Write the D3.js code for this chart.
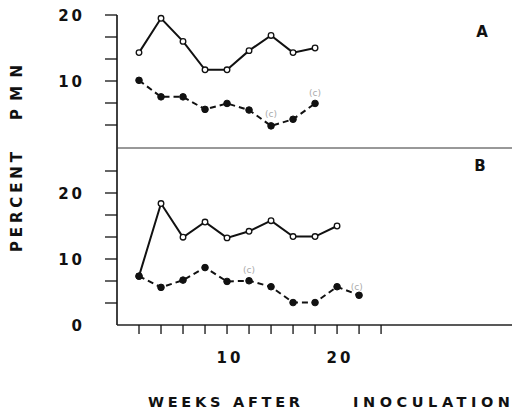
<!DOCTYPE html>
<html><head><meta charset="utf-8">
<script src="https://cdn.jsdelivr.net/npm/d3@7"></script>
<style>body{margin:0;background:#fff}svg{display:block}text{font-family:"DejaVu Sans",Verdana,sans-serif;font-weight:bold;fill:#111}</style>
</head><body>
<script>
const weeksA = [2,4,6,8,10,12,14,16,18];
const solidA = [14.3,19.5,16.0,11.7,11.7,14.6,16.9,14.3,15.0];
const dashedA = [10.1,7.6,7.6,5.7,6.6,5.6,3.2,4.2,6.6];
const weeksBsolid = [2,4,6,8,10,12,14,16,18,20];
const solidB = [7.4,18.4,13.3,15.6,13.2,14.2,15.8,13.4,13.4,15.0];
const weeksBdashed = [2,4,6,8,10,12,14,16,18,20,22];
const dashedB = [7.4,5.7,6.8,8.7,6.6,6.7,5.8,3.4,3.4,5.8,4.5];
const xTicks = [2,4,6,8,10,12,14,16,18,20,22,24];
const xTickLabels = [10,20];
const yTicksA = [20,50/3,40/3,10,20/3,10/3];
const yTicksB = [70/3,20,50/3,40/3,10,20/3,10/3];
const yLabelsA = [20,10];
const yLabelsB = [20,10,0];
const notesA = [{w:14,v:5.0,t:"(c)"},{w:18,v:8.2,t:"(c)"}];
const notesB = [{w:12,v:8.3,t:"(c)"},{w:21.8,v:5.8,t:"(c)"}];

const W=512,H=415;
const svg=d3.select("body").append("svg").attr("width",W).attr("height",H);
const x=d3.scaleLinear().domain([0,35.9]).range([117,512]);
const yA=d3.scaleLinear().domain([0,20]).range([147,15]);
const yB=d3.scaleLinear().domain([0,20]).range([325,193]);

// axes lines
svg.append("line").attr("x1",117).attr("x2",117).attr("y1",yA(20)).attr("y2",yB(0)).attr("stroke","#111").attr("stroke-width",1.6);
svg.append("line").attr("x1",117).attr("x2",512).attr("y1",yB(0)).attr("y2",yB(0)).attr("stroke","#222").attr("stroke-width",1.3);
svg.append("line").attr("x1",117).attr("x2",512).attr("y1",148).attr("y2",148).attr("stroke","#333").attr("stroke-width",1);

// y ticks
[[yA,yTicksA],[yB,yTicksB]].forEach(([s,t])=>{
  svg.selectAll(null).data(t).enter().append("line")
    .attr("x1",105).attr("x2",117).attr("y1",d=>s(d)).attr("y2",d=>s(d))
    .attr("stroke","#111").attr("stroke-width",1.3);
});
// x ticks
svg.selectAll(null).data(xTicks).enter().append("line")
  .attr("x1",d=>x(d)).attr("x2",d=>x(d)).attr("y1",325).attr("y2",334)
  .attr("stroke","#111").attr("stroke-width",1.3);

// tick labels
const tl=(sel)=>sel.style("font-size","15px").style("letter-spacing","3px");
[[yA,yLabelsA],[yB,yLabelsB]].forEach(([s,t])=>{
  svg.selectAll(null).data(t).enter().append("text")
    .attr("x",85).attr("y",d=>s(d)+5.5).attr("text-anchor","end").text(d=>d).call(tl);
});
svg.selectAll(null).data(xTickLabels).enter().append("text")
  .attr("x",d=>x(d)+3).attr("y",363).attr("text-anchor","middle").text(d=>d).call(tl);

// axis titles
svg.append("text").attr("transform","translate(22,252) rotate(-90)").attr("textLength",100).attr("lengthAdjust","spacing").style("font-size","15px").text("PERCENT");
svg.append("text").attr("transform","translate(22,120) rotate(-90)").attr("textLength",55).attr("lengthAdjust","spacing").style("font-size","15px").text("PMN");
svg.append("text").attr("x",148).attr("y",407).attr("textLength",152).attr("lengthAdjust","spacing").style("font-size","14.5px").text("WEEKS AFTER");
svg.append("text").attr("x",353).attr("y",407).attr("textLength",157).attr("lengthAdjust","spacing").style("font-size","14.5px").text("INOCULATION");
svg.append("text").attr("x",482).attr("y",37).attr("text-anchor","middle").style("font-size","15px").text("A");
svg.append("text").attr("x",480).attr("y",171).attr("text-anchor","middle").style("font-size","15px").text("B");

function series(ws,vs,s,dashed){
  const pts=ws.map((w,i)=>[x(w),s(vs[i])]);
  svg.append("path").attr("d",d3.line()(pts)).attr("fill","none").attr("stroke","#111")
    .attr("stroke-width",2).attr("stroke-dasharray",dashed?"6,4":null);
  svg.selectAll(null).data(pts).enter().append("circle")
    .attr("cx",d=>d[0]).attr("cy",d=>d[1]).attr("r",dashed?3.3:2.8)
    .attr("fill",dashed?"#111":"#fff").attr("stroke","#111").attr("stroke-width",dashed?1:1.3);
}
series(weeksA,solidA,yA,false);
series(weeksA,dashedA,yA,true);
series(weeksBsolid,solidB,yB,false);
series(weeksBdashed,dashedB,yB,true);

[[yA,notesA],[yB,notesB]].forEach(([s,n])=>{
  svg.selectAll(null).data(n).enter().append("text")
    .attr("x",d=>x(d.w)).attr("y",d=>s(d.v)+3).attr("text-anchor","middle")
    .style("font-size","9px").style("font-weight","normal").style("fill","#aaa").text(d=>d.t);
});
</script>
</body></html>
